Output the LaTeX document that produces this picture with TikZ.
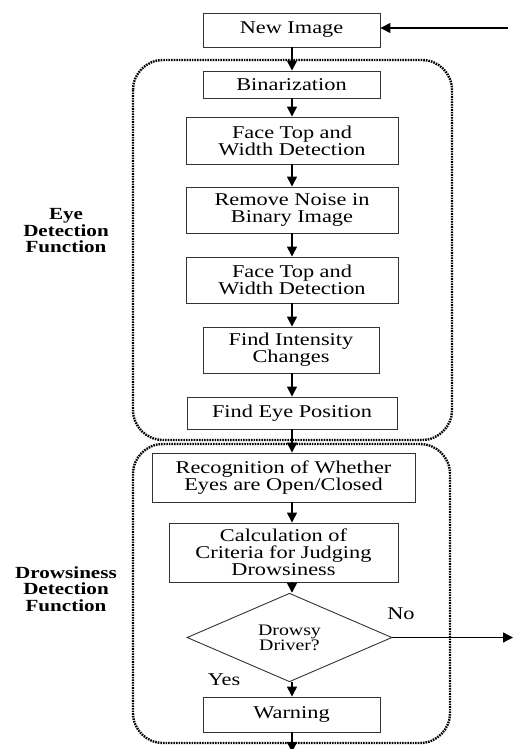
\documentclass[tikz,border=0pt]{standalone}
\usepackage{fontspec}
\setmainfont{Liberation Serif}[FakeStretch=1.24, BoldFont={Liberation Serif Bold}]
\usetikzlibrary{arrows.meta,positioning,shapes.geometric}
\tikzset{
  fnboundary/.style={draw=black, line width=2.4pt, rounded corners=30pt,
    dash pattern=on 1.6pt off 1pt},
  procbox/.style={draw=black!80, line width=0.9pt, rectangle, align=center,
    inner sep=0pt, font=\fontsize{18}{17}\selectfont},
  decision/.style={draw=black!80, line width=0.9pt, diamond, align=center,
    inner sep=0pt, font=\fontsize{16}{14}\selectfont},
  flowarrow/.style={-{Triangle[length=10pt,width=10pt]}, line width=1.4pt},
  fnlabel/.style={font=\fontsize{17}{16.5}\selectfont\bfseries, align=center},
  answer/.style={font=\fontsize{18}{17}\selectfont},
}

\begin{document}
\begin{tikzpicture}[x=1pt, y=-1pt]
\useasboundingbox (0,0) rectangle (513,749);

%% Function groups
\draw[fnboundary] (133, 60) rectangle (452, 440);
\draw[fnboundary] (133, 444) rectangle (450, 743);
\node[fnlabel] (lbl_eye)    at (66, 231) {Eye\\Detection\\Function};
\node[fnlabel] (lbl_drowsy) at (66, 589) {Drowsiness\\Detection\\Function};

%% Steps
\node[procbox, minimum width=177pt, minimum height=34pt] (st_new)    at (291.5, 30)  {New Image};
\node[procbox, minimum width=177pt, minimum height=27pt] (st_bin)    at (291.5, 84.5) {Binarization};
\node[procbox, minimum width=212pt, minimum height=47pt] (st_face1)  at (292, 140.5) {Face Top and\\Width Detection};
\node[procbox, minimum width=212pt, minimum height=46pt] (st_noise)  at (292, 210)   {Remove Noise in\\Binary Image};
\node[procbox, minimum width=212pt, minimum height=46pt] (st_face2)  at (292, 280)   {Face Top and\\Width Detection};
\node[procbox, minimum width=176pt, minimum height=46pt] (st_int)    at (291, 350)   {Find Intensity\\Changes};
\node[procbox, minimum width=210pt, minimum height=32pt] (st_eye)    at (292, 413)   {Find Eye Position};
\node[procbox, minimum width=263pt, minimum height=49pt] (st_recog)  at (283.5, 477.5) {Recognition of Whether\\Eyes are Open/Closed};
\node[procbox, minimum width=229pt, minimum height=59pt] (st_calc)   at (283.5, 552.5) {Calculation of\\Criteria for Judging\\Drowsiness};
\node[decision, minimum width=205pt, minimum height=71pt] (st_drowsy) at (289.5, 637.5) {Drowsy\\Driver?};
\node[procbox, minimum width=177pt, minimum height=35pt] (st_warn)   at (291.5, 714.5) {Warning};

\node[answer] (ans_yes) at (224, 680) {Yes};
\node[answer] (ans_no)  at (401, 614) {No};

%% Connectors
\coordinate (spine) at (292, 0);
\foreach \a/\b in {st_new/st_bin, st_bin/st_face1, st_face1/st_noise, st_noise/st_face2,
  st_face2/st_int, st_int/st_eye, st_eye/st_recog, st_recog/st_calc,
  st_calc/st_drowsy, st_drowsy/st_warn}
  \draw[flowarrow] (\a.south -| spine) -- (\b.north -| spine);

\coordinate (feed_in) at (508, 28);
\draw[flowarrow] (feed_in) -- (feed_in -| st_new.east);
\coordinate (no_out) at (513, 0);
\draw[flowarrow] (st_drowsy.east) -- (st_drowsy.east -| no_out);
\coordinate (warn_out) at (292, 752);
\draw[flowarrow] (st_warn.south -| spine) -- (warn_out);
\end{tikzpicture}
\end{document}
